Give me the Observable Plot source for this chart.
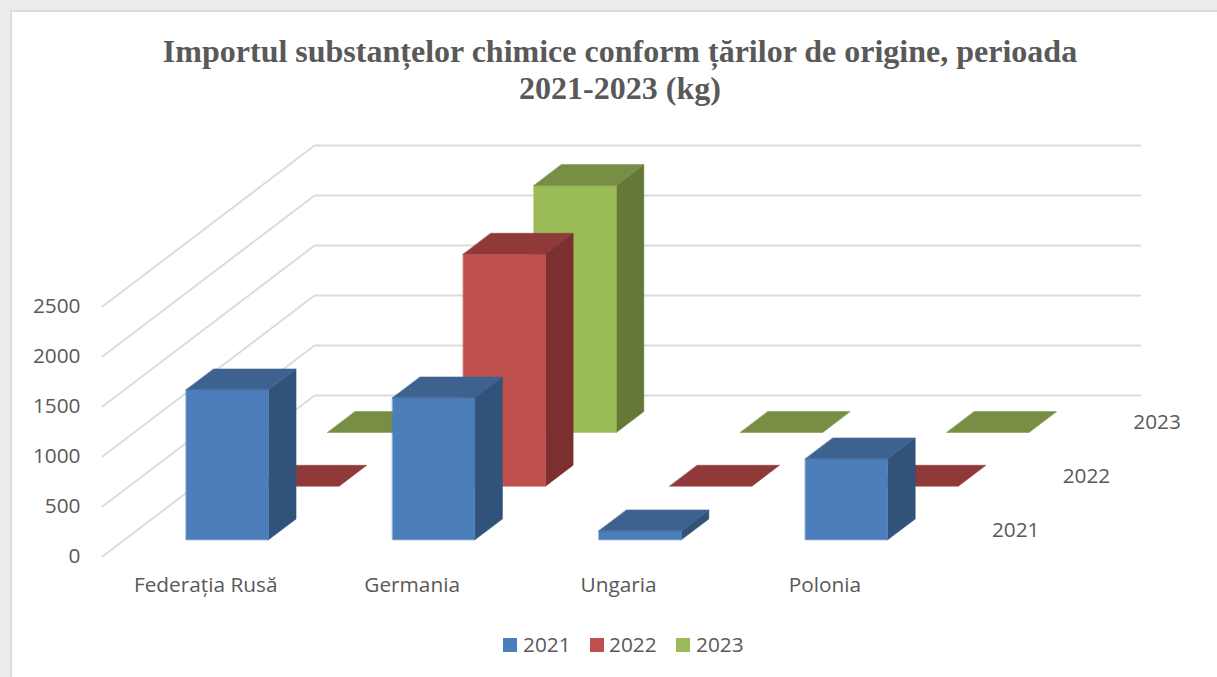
<!DOCTYPE html>
<html lang="ro">
<head>
<meta charset="utf-8">
<script src="https://cdn.jsdelivr.net/npm/d3@7"></script>
<script src="https://cdn.jsdelivr.net/npm/@observablehq/plot@0.6"></script>
<style>
html,body{margin:0;padding:0;background:#ececec;width:1217px;height:677px;overflow:hidden}
#card{position:absolute;left:10px;top:10px;width:1300px;height:800px;background:#fff;border:2px solid #dcdcdc;box-sizing:border-box}
#title{position:absolute;left:120px;top:33px;width:1000px;text-align:center;font:bold 32px/37px "Liberation Serif",serif;color:#595959}
#chart{position:absolute;left:0;top:136px}
#legend{position:absolute;top:630px;left:0;width:1217px;height:28px;font:20.8px/28px "Open Sans",sans-serif;color:#595959}
.sw{position:absolute;top:8px;width:14px;height:14px}
.lb{position:absolute;top:0}
svg text{font-family:"Open Sans",sans-serif}
</style>
</head>
<body>
<div id="card"></div>
<div id="title">Importul substanțelor chimice conform țărilor de origine, perioada<br>2021-2023 (kg)</div>
<div id="chart"></div>
<div id="legend"></div>
<script>
const categories = ["Federația Rusă", "Germania", "Ungaria", "Polonia"];
const years = ["2021", "2022", "2023"];
const values2021 = [1500, 1420, 90, 810];
const values2022 = [0, 2320, 0, 0];
const values2023 = [0, 2470, 0, 0];
const valueTicks = [0, 500, 1000, 1500, 2000, 2500];
const yearColors = ["#4d7ebc", "#c0504d", "#9bbb59"];
const topColors = ["#3d628f", "#8f3a38", "#778e44"];
const sideColors = ["#315279", "#7b2f2e", "#657836"];

// oblique projection: one depth row shifts the picture right and up
const rowX = 0.3425, rowY = 536.7;
const barLeft = 0.299, barRight = 0.698, barFront = 0.31, barBack = 0.7;
const px = (c, z) => c + z * rowX;
const py = (v, z) => v + z * rowY;
const series = [values2021, values2022, values2023];

const faces = [];
function face(id, key, corners) {
  for (const [c, z, v] of corners) faces.push({id, key, x: px(c, z), y: py(v, z)});
}
for (let r = years.length - 1; r >= 0; r--) {
  categories.forEach((_, i) => {
    const v = series[r][i], l = i + barLeft, h = i + barRight, f = r + barFront, b = r + barBack;
    if (v > 0) {
      face(`s${r}-${i}`, `side${r}`, [[h,f,0],[h,b,0],[h,b,v],[h,f,v]]);
      face(`f${r}-${i}`, `front${r}`, [[l,f,0],[h,f,0],[h,f,v],[l,f,v]]);
    }
    face(`t${r}-${i}`, `top${r}`, [[l,f,v],[h,f,v],[h,b,v],[l,b,v]]);
  });
}
const grid = valueTicks.flatMap(v => [
  {v, x: px(0, 0), y: py(v, 0)},
  {v, x: px(0, years.length), y: py(v, years.length)},
  {v, x: px(categories.length, years.length), y: py(v, years.length)}
]);
const yearLabels = years.map((y, r) => ({y, px: px(categories.length, r + 0.5), py: py(0, r + 0.5)}));

const faceKeys = years.flatMap((_, r) => [`front${r}`, `side${r}`, `top${r}`]);
const faceColors = years.flatMap((_, r) => [yearColors[r], sideColors[r], topColors[r]]);

const W = 1217, H = 464, ML = 102, MB = 44, CAT = 206.4;
const plot = Plot.plot({
  width: W, height: H,
  marginLeft: ML, marginRight: 0, marginTop: 0, marginBottom: MB,
  style: {background: "transparent", overflow: "visible"},
  x: {domain: [0, (W - ML) / CAT]},
  y: {domain: [0, 4200]},
  color: {domain: faceKeys, range: faceColors},
  marks: [
    Plot.line(grid, {x: "x", y: "y", z: "v", stroke: "#dcdcdc", strokeWidth: 2}),
    Plot.line(faces, {x: "x", y: "y", z: "id", fill: "key", stroke: "key", strokeWidth: 0.5, curve: "linear-closed"}),
    Plot.axisY({ticks: valueTicks, tickFormat: d => String(d), tickSize: 0, tickPadding: 22, label: null, fontSize: 20.8, color: "#595959", dy: -0.5}),
    Plot.axisX({ticks: categories.map((_, i) => i + 0.5), tickFormat: t => categories[Math.floor(t)], tickSize: 0, tickPadding: 21, label: null, fontSize: 20.8, color: "#595959"}),
    Plot.text(yearLabels, {x: "px", y: "py", text: "y", textAnchor: "start", dx: 28.5, dy: 0.5, fontSize: 20.8, fill: "#595959"})
  ]
});
document.getElementById("chart").append(plot);

const legend = document.getElementById("legend");
const swatchLeft = [503, 590, 676], labelLeft = [523, 609, 696];
years.forEach((y, r) => {
  const s = document.createElement("div");
  s.className = "sw"; s.style.left = swatchLeft[r] + "px"; s.style.background = yearColors[r];
  const t = document.createElement("div");
  t.className = "lb"; t.style.left = labelLeft[r] + "px"; t.textContent = y;
  legend.append(s, t);
});
</script>
</body>
</html>
